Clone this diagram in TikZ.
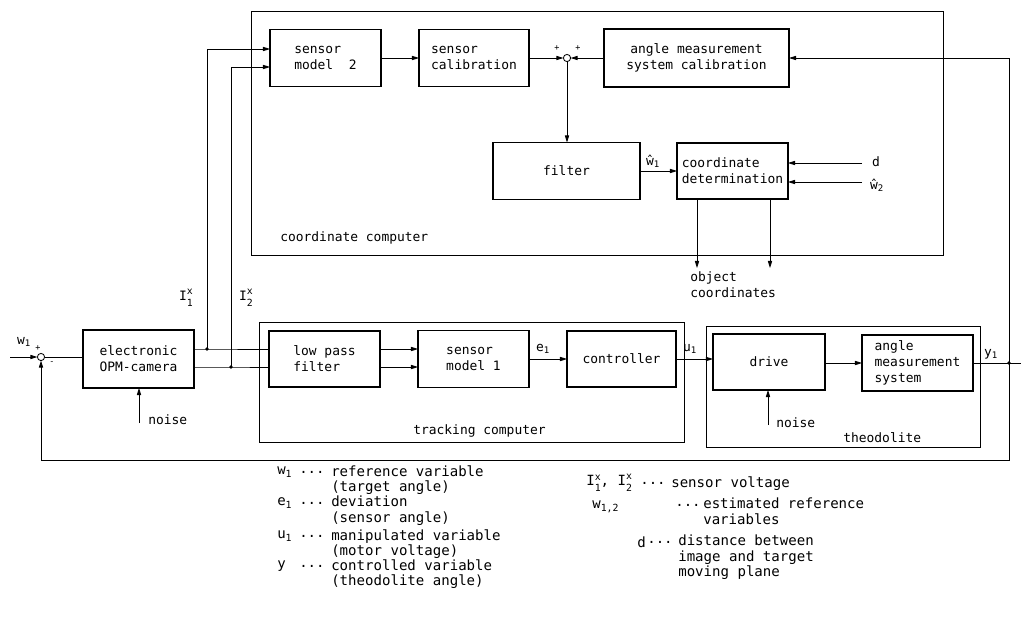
\documentclass[tikz,border=0pt]{standalone}
\usepackage{fontspec}
\setmainfont{DejaVu Sans Mono}
\usepackage{tikz}
\usetikzlibrary{calc}
\usetikzlibrary{arrows.meta}

\newcommand{\boxfont}{\fontsize{9.2}{11.4}\selectfont}
\newcommand{\legendfont}{\fontsize{10}{11}\selectfont}
\newcommand{\signfont}{\fontsize{6}{6}\selectfont}
\newcommand{\supsub}[3]{#1\raisebox{-4pt}{\fontsize{7}{13}\selectfont\shortstack[l]{#3\\#2}}}
\newcommand{\dotdotdot}{{.}{.}{.}}

\begin{document}
\begin{tikzpicture}[x=0.025cm,y=-0.025cm]
    \tikzstyle{frame}=[draw,line width=0.7pt,inner sep=0pt,outer sep=0pt]
    \tikzstyle{block}=[draw,line width=0.8pt,minimum width=2.775cm,minimum height=1.425cm,inner sep=2pt,outer sep=0pt,align=left,font=\boxfont]
    \tikzstyle{sumpoint}=[draw,circle,line width=0.6pt,minimum size=0.18cm,inner sep=0pt,outer sep=0pt]
    \tikzstyle{line}=[line width=0.6pt,color=black]
    \tikzstyle{signal}=[-{Triangle[length=5pt,width=3pt]},line width=0.6pt,color=black]
    \tikzstyle{signal text}=[inner sep=0pt,font=\boxfont]
    \tikzstyle{sign text}=[inner sep=0pt,font=\signfont]
    \tikzstyle{frame text}=[inner sep=0pt,anchor=west,font=\boxfont]
    \tikzstyle{legend text}=[inner sep=0pt,anchor=west,font=\legendfont]
    \tikzstyle{legend desc}=[inner sep=0pt,anchor=north west,align=left,font=\legendfont]

    \useasboundingbox (0,0) rectangle (1021,625);

    % Frames
    \node[style=frame,minimum width=17.275cm,minimum height=6.075cm] (cc) at (597.5,133.5) {};
    \node[style=frame,minimum width=10.6cm,minimum height=2.975cm] (tc) at (472,382.5) {};
    \node[style=frame,minimum width=6.825cm,minimum height=3cm] (th) at (843.5,387) {};

    % Coordinate computer
    \node[style=block] (sm2) at (325.5,58) {sensor\\model\ \ 2};
    \node[style=block,minimum width=2.75cm] (scal) at (474,58) {sensor\\calibration};
    \node[style=sumpoint] (s2) at (567,58) {};
    \node[style=block,minimum width=4.625cm,minimum height=1.45cm,align=center] (amsc) at (696.5,58) {angle measurement\\system calibration};
    \node[style=block,minimum width=3.675cm] (filt) at (566.5,171) {filter};
    \node[style=block,minimum height=1.4cm] (cdet) at (732.5,171) {coordinate\\determination};

    % Control loop
    \node[style=sumpoint] (s1) at (41,357) {};
    \node[style=block,minimum height=1.45cm,align=center] (cam) at (138.5,359) {electronic\\OPM-camera};
    \node[style=block,minimum height=1.4cm] (lpf) at (324.5,359) {low pass\\filter};
    \node[style=block] (sm1) at (473.5,359) {sensor\\model 1};
    \node[style=block,minimum width=2.725cm,minimum height=1.4cm] (ctrl) at (621.5,359) {controller};
    \node[style=block,minimum width=2.8cm,minimum height=1.4cm] (drv) at (769,362) {drive};
    \node[style=block,minimum height=1.4cm] (ams) at (917.5,363) {angle\\measurement\\system};

    \coordinate (in) at (10,357);
    \coordinate (j1) at (207,349);
    \coordinate (j2) at (231,367);
    \coordinate (jy) at (1009,363);
    \coordinate (yout) at (1021,363);
    \coordinate (fb) at (1009,460);
    \coordinate (n1) at (139,423);
    \coordinate (n2) at (768,425);
    \coordinate (d) at (862,163);
    \coordinate (w2) at (862,182);
    \coordinate (oc1) at (697,268);
    \coordinate (oc2) at (770,268);

    % Sensor signals
    \draw[style=signal] (in) -- (s1);
    \draw[style=line] (s1) -- (s1 -| cam.west);
    \draw[style=line] (cam.east |- j1) -- (j1) -- (lpf.west |- j1);
    \draw[style=line] (cam.east |- j2) -- (j2) -- (lpf.west |- j2);
    \draw[style=signal] (j1) |- ($(sm2.west)+(0,-9)$);
    \draw[style=signal] (j2) |- ($(sm2.west)+(0,9)$);
    \fill (j1) circle (1.3pt);
    \fill (j2) circle (1.3pt);

    % Tracking path
    \draw[style=signal] (lpf.east |- j1) -- (sm1.west |- j1);
    \draw[style=signal] (lpf.east |- j2) -- (sm1.west |- j2);
    \draw[style=signal] (sm1.east) -- (sm1.east -| ctrl.west);
    \draw[style=signal] (ctrl.east) -- (ctrl.east -| drv.west);
    \draw[style=signal] (drv.east |- ams.west) -- (ams.west);
    \draw[style=line] (ams.east) -- (yout);
    \fill (jy) circle (1.3pt);
    \draw[style=signal] (n1) -- (n1 |- cam.south);
    \draw[style=signal] (n2) -- (n2 |- drv.south);

    % Feedback
    \draw[style=signal] (jy) |- (amsc.east);
    \draw[style=signal] (jy) -- (fb) -| (s1);

    % Coordinate path
    \draw[style=signal] (sm2) -- (scal);
    \draw[style=signal] (scal) -- (s2);
    \draw[style=signal] (amsc) -- (s2);
    \draw[style=signal] (s2) -- (s2 |- filt.north);
    \draw[style=signal] (filt) -- (cdet);
    \draw[style=signal] (d) -- (d -| cdet.east);
    \draw[style=signal] (w2) -- (w2 -| cdet.east);
    \draw[style=signal] (cdet.south -| oc1) -- (oc1);
    \draw[style=signal] (cdet.south -| oc2) -- (oc2);

    % Signal labels
    \node[style=signal text] (lw1) at (24,342) {w\textsubscript{1}};
    \node[style=sign text] (lp1) at (38,348) {+};
    \node[style=sign text] (lm1) at (52,363) {-};
    \node[style=sign text] (lp2) at (557,48) {+};
    \node[style=sign text] (lp3) at (578,48) {+};
    \node[style=signal text] (lI1) at (186,298) {\supsub{I}{1}{x}};
    \node[style=signal text] (lI2) at (246,298) {\supsub{I}{2}{x}};
    \node[style=signal text] (lwh1) at (653,161) {ŵ\textsubscript{1}};
    \node[style=signal text] (ld) at (876,162) {d};
    \node[style=signal text] (lwh2) at (877,185) {ŵ\textsubscript{2}};
    \node[style=signal text] (le1) at (543,349) {e\textsubscript{1}};
    \node[style=signal text] (lu1) at (690,349) {u\textsubscript{1}};
    \node[style=signal text] (ly1) at (991,354) {y\textsubscript{1}};
    \node[style=signal text,anchor=west,align=left] (loc) at (690,285) {object\\coordinates};
    \node[style=frame text] (lcc) at (280,238) {coordinate computer};
    \node[style=frame text] (ltc) at (413,431) {tracking computer};
    \node[style=frame text] (lth) at (843,438) {theodolite};
    \node[style=frame text] (ln1) at (148,420) {noise};
    \node[style=frame text] (ln2) at (776,423) {noise};

    % Legend
    \node[style=legend text] (kw) at (277,472) {w\textsubscript{1}};
    \node[style=legend text] at (299,472) {\dotdotdot};
    \node[style=legend desc] at (331,465) {reference variable\\(target angle)};
    \node[style=legend text] (ke) at (277,503) {e\textsubscript{1}};
    \node[style=legend text] at (299,503) {\dotdotdot};
    \node[style=legend desc] at (331,496) {deviation\\(sensor angle)};
    \node[style=legend text] (ku) at (277,536) {u\textsubscript{1}};
    \node[style=legend text] at (299,536) {\dotdotdot};
    \node[style=legend desc] at (331,529) {manipulated variable\\(motor voltage)};
    \node[style=legend text] (ky) at (277,566) {y};
    \node[style=legend text] at (299,566) {\dotdotdot};
    \node[style=legend desc] at (331,559) {controlled variable\\(theodolite angle)};

    \node[style=legend text] (kI) at (586,483) {\supsub{I}{1}{x}, \supsub{I}{2}{x}};
    \node[style=legend text] at (640,483) {\dotdotdot};
    \node[style=legend desc] at (671,476) {sensor voltage};
    \node[style=legend text] (kwh) at (592,507) {w\textsubscript{1,2}};
    \node[style=legend text] at (675,505) {\dotdotdot};
    \node[style=legend desc] at (703,498) {estimated reference\\variables};
    \node[style=legend text] (kd) at (637,542) {d};
    \node[style=legend text] at (647,542) {\dotdotdot};
    \node[style=legend desc] at (678,535) {distance between\\image and target\\moving plane};

\end{tikzpicture}
\end{document}
